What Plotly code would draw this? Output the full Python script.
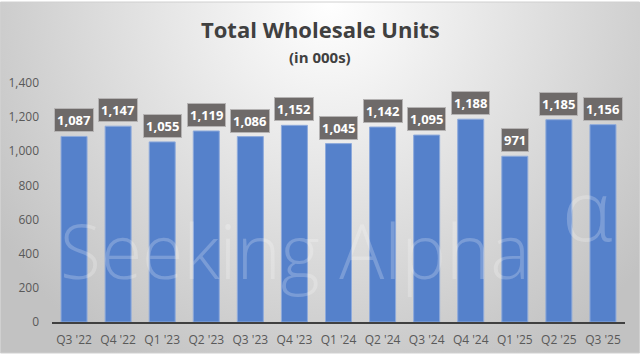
import base64
import plotly.graph_objects as go

quarters = ["Q3 '22", "Q4 '22", "Q1 '23", "Q2 '23", "Q3 '23", "Q4 '23", "Q1 '24",
            "Q2 '24", "Q3 '24", "Q4 '24", "Q1 '25", "Q2 '25", "Q3 '25"]
units = [1087, 1147, 1055, 1119, 1086, 1152, 1045, 1142, 1095, 1188, 971, 1185, 1156]
y_ticks = [0, 200, 400, 600, 800, 1000, 1200, 1400]

W, H = 640, 358
FONT = "Open Sans"

# background radial gradient (style only)
svg = (
    '<svg xmlns="http://www.w3.org/2000/svg" width="640" height="351" viewBox="0 0 640 351" '
    'preserveAspectRatio="none"><defs><radialGradient id="g" gradientUnits="userSpaceOnUse" '
    'cx="0" cy="0" r="1" gradientTransform="translate(330,0) scale(400,420)">'
    '<stop offset="0" stop-color="#ffffff"/><stop offset="1" stop-color="#c2c2c2"/>'
    '</radialGradient></defs><rect x="0" y="0" width="640" height="351" fill="url(#g)"/></svg>'
)
svg_uri = "data:image/svg+xml;base64," + base64.b64encode(svg.encode()).decode()

fig = go.Figure()
fig.add_trace(go.Bar(
    x=quarters, y=units, width=0.59,
    marker=dict(color="#5581cb", line=dict(color="#8eaadb", width=1)),
    hoverinfo="skip",
))

annotations = []
for q, v in zip(quarters, units):
    annotations.append(dict(
        x=q, y=v, xref="x", yref="y", text=f"{v:,}", showarrow=False,
        yanchor="bottom", yshift=4,
        font=dict(family=FONT, size=13, color="white", weight="bold"),
        bgcolor="#6e6a69", bordercolor="#b5b3b3", borderwidth=1, borderpad=2,
    ))

# watermark
annotations.append(dict(
    x=58 / W, y=1 - 250 / H, xref="paper", yref="paper", xanchor="left", yanchor="middle",
    text="Seeking Alpha", showarrow=False,
    font=dict(family=FONT, size=75, color="rgba(255,255,255,0.22)", weight=300),
))
annotations.append(dict(
    x=560 / W, y=1 - 208 / H, xref="paper", yref="paper", xanchor="left", yanchor="middle",
    text="α", showarrow=False,
    font=dict(family=FONT, size=85, color="rgba(255,255,255,0.22)", weight=300),
))
# titles
annotations.append(dict(
    x=0.5, y=1 - 29 / H, xref="paper", yref="paper", xanchor="center", yanchor="middle",
    text="Total Wholesale Units", showarrow=False,
    font=dict(family=FONT, size=22, color="#404040", weight="bold"),
))
annotations.append(dict(
    x=0.5, y=1 - 57 / H, xref="paper", yref="paper", xanchor="center", yanchor="middle",
    text="(in 000s)", showarrow=False,
    font=dict(family=FONT, size=15, color="#404040", weight="bold"),
))

fig.update_layout(
    width=W, height=H,
    margin=dict(l=0, r=0, t=0, b=0),
    paper_bgcolor="white", plot_bgcolor="rgba(0,0,0,0)",
    showlegend=False,
    annotations=annotations,
    images=[dict(source=svg_uri, xref="paper", yref="paper", x=0, y=1 - 2 / H,
                 sizex=1, sizey=351 / H, sizing="stretch", layer="below",
                 xanchor="left", yanchor="top")],
    shapes=[dict(type="rect", xref="paper", yref="paper",
                 x0=0.5 / W, x1=1 - 0.5 / W, y0=1 - 353 / H, y1=1 - 2 / H,
                 line=dict(color="#d0d0d0", width=1), layer="above")],
    xaxis=dict(
        domain=[52 / W, 625 / W], type="category",
        showline=True, linecolor="#404040", linewidth=1.5,
        showgrid=False, ticks="", ticklabelstandoff=6,
        tickfont=dict(family=FONT, size=12, color="#595959"),
        automargin=False, fixedrange=True,
    ),
    yaxis=dict(
        domain=[36 / H, 275 / H], range=[0, 1400],
        tickvals=y_ticks, tickformat=",",
        showgrid=False, zeroline=False, showline=False, ticks="",
        ticklabelstandoff=12,
        tickfont=dict(family=FONT, size=12, color="#595959"),
        automargin=False, fixedrange=True,
    ),
)

fig.write_html("out.html", config={"displayModeBar": False},
               post_script="document.body.style.margin='0';")
